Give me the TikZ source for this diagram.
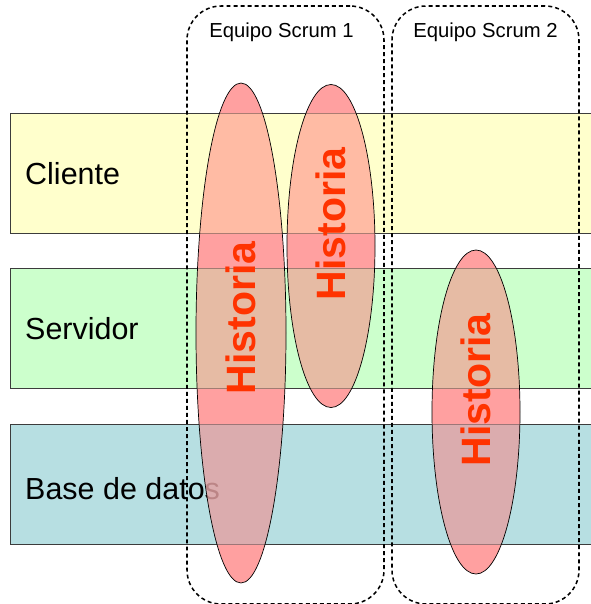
\documentclass[tikz,border=0pt]{standalone}
\usepackage{fontspec}
\setmainfont{Liberation Sans}
\usepackage{tikz}
\usepackage{xcolor}
\usetikzlibrary{shapes.geometric}

\definecolor{clientfill}{RGB}{255,255,204}
\definecolor{servfill}{RGB}{204,255,204}
\definecolor{datafill}{RGB}{183,223,226}
\definecolor{bandline}{RGB}{60,60,60}
\definecolor{storyfill}{RGB}{255,128,128}
\definecolor{storytext}{RGB}{255,51,0}
\newlength\pxu
\setlength\pxu{0.03cm}

\begin{document}
\begin{tikzpicture}[x=0.03cm,y=-0.03cm,
  band/.style={draw=bandline, line width=0.8pt, rectangle, anchor=north west,
    minimum width=590*\pxu, minimum height=120*\pxu, inner sep=0pt},
  bandveil/.style={fill=#1, draw=bandline, line width=0.8pt, opacity=0.3},
  rowlabel/.style={anchor=west, inner sep=0pt, font=\fontsize{26}{30}\selectfont},
  team/.style={draw, dash pattern=on 3.4pt off 2.6pt, line width=1.3pt,
    rounded corners=34*\pxu, rectangle, inner sep=0pt},
  teamlabel/.style={inner sep=0pt, font=\fontsize{17.3}{20}\selectfont},
  story/.style={ellipse, fill=storyfill, fill opacity=0.75, inner sep=0pt},
  storylabel/.style={rotate=90, inner sep=0pt, text=storytext,
    font=\fontsize{35}{40}\selectfont\bfseries}]
\clip (0,0) rectangle (591,604);
\node[band, fill=clientfill] (cliente) at (10,113) {};
\node[band, fill=servfill] (servidor) at (10,268) {};
\node[band, fill=datafill] (datos) at (10,424) {};
\node[rowlabel] (lcliente) at ([shift={(15,0)}]cliente.west) {Cliente};
\node[rowlabel] (lservidor) at ([shift={(15,0)}]servidor.west) {Servidor};
\node[rowlabel] (ldatos) at ([shift={(15,4)}]datos.west) {Base de datos};
\node[story, minimum width=90*\pxu, minimum height=500*\pxu] (h1) at (241,333) {};
\node[story, minimum width=88*\pxu, minimum height=323*\pxu] (h2) at (331,246) {};
\node[story, minimum width=88*\pxu, minimum height=324*\pxu] (h3) at (476,412) {};
\begin{scope}
\clip (h1.center) ellipse [x radius=45, y radius=250]
  (h2.center) ellipse [x radius=44, y radius=161.5]
  (h3.center) ellipse [x radius=44, y radius=162];
\filldraw[bandveil=clientfill] (cliente.south west) rectangle (cliente.north east);
\filldraw[bandveil=servfill] (servidor.south west) rectangle (servidor.north east);
\filldraw[bandveil=datafill] (datos.south west) rectangle (datos.north east);
\end{scope}
\draw[line width=0.6pt] (h1.center) ellipse [x radius=45, y radius=250]
  (h2.center) ellipse [x radius=44, y radius=161.5]
  (h3.center) ellipse [x radius=44, y radius=162];
\node[storylabel] (t1) at ([shift={(0,-15)}]h1.center) {Historia};
\node[storylabel] (t2) at ([shift={(0,-22)}]h2.center) {Historia};
\node[storylabel] (t3) at ([shift={(0,-22)}]h3.center) {Historia};
\node[team, minimum width=197*\pxu, minimum height=598*\pxu] (team1) at (285.5,305) {};
\node[team, minimum width=187*\pxu, minimum height=598*\pxu] (team2) at (485.5,305) {};
\node[teamlabel] (lteam1) at ([shift={(-4,27)}]team1.north) {Equipo Scrum 1};
\node[teamlabel] (lteam2) at ([shift={(0,27)}]team2.north) {Equipo Scrum 2};
\end{tikzpicture}
\end{document}
